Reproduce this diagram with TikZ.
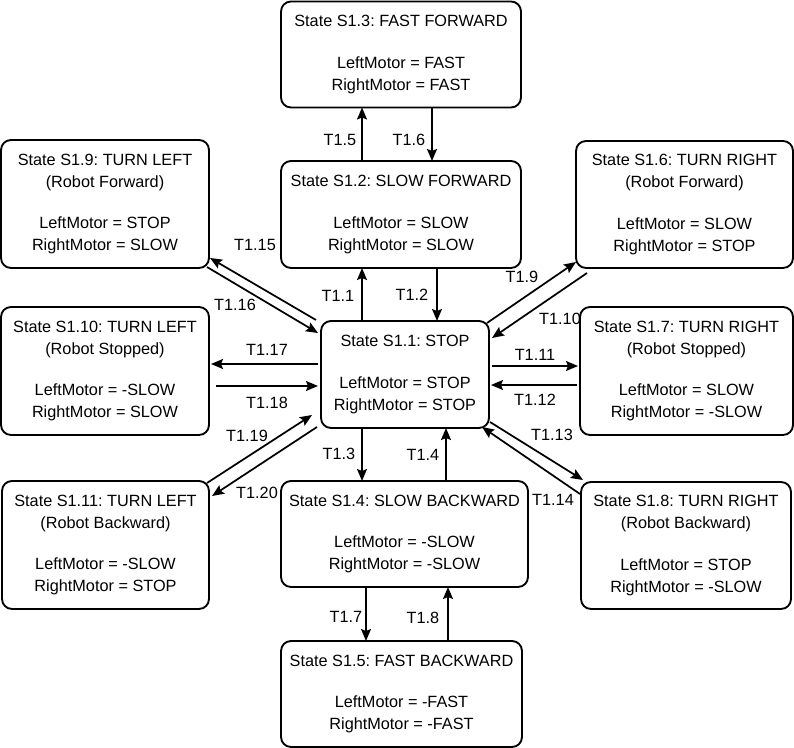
\documentclass[tikz,border=0pt]{standalone}
\usepackage{fontspec}
\setmainfont{Liberation Sans}
\usetikzlibrary{arrows.meta}
\frenchspacing

\begin{document}
\begin{tikzpicture}[x=0.75pt,y=-0.75pt,font=\fontsize{12.2}{16.5}\selectfont]
  \useasboundingbox (0,0) rectangle (794,748);
  \begin{scope}[every node/.style={draw,line width=1.4pt,rounded corners=7.5pt,align=center,inner sep=0pt,outer sep=0pt}]
  \node[minimum width=180pt,minimum height=79.5pt] (s13) at (401,54.5) {State S1.3: FAST FORWARD\\[14.5pt]LeftMotor = FAST\\RightMotor = FAST};
  \node[minimum width=180pt,minimum height=80.25pt] (s12) at (401,214.5) {State S1.2: SLOW FORWARD\\[14.5pt]LeftMotor = SLOW\\RightMotor = SLOW};
  \node[minimum width=126pt,minimum height=80.25pt] (s11) at (405,374.5) {State S1.1: STOP\\[14.5pt]LeftMotor = STOP\\RightMotor = STOP};
  \node[minimum width=185.25pt,minimum height=79.5pt] (s14) at (404.5,534) {State S1.4: SLOW BACKWARD\\[14.5pt]LeftMotor = -SLOW\\RightMotor = -SLOW};
  \node[minimum width=180.75pt,minimum height=79.5pt] (s15) at (401.5,694) {State S1.5: FAST BACKWARD\\[14.5pt]LeftMotor = -FAST\\RightMotor = -FAST};
  \node[minimum width=156pt,minimum height=96pt] (s19) at (105,204) {State S1.9: TURN LEFT\\(Robot Forward)\\[14.5pt]LeftMotor = STOP\\RightMotor = SLOW};
  \node[minimum width=156pt,minimum height=96pt] (s110) at (105,371) {State S1.10: TURN LEFT\\(Robot Stopped)\\[14.5pt]LeftMotor = -SLOW\\RightMotor = SLOW};
  \node[minimum width=155.25pt,minimum height=96pt] (s111) at (105.5,545) {State S1.11: TURN LEFT\\(Robot Backward)\\[14.5pt]LeftMotor = -SLOW\\RightMotor = STOP};
  \node[minimum width=162.75pt,minimum height=95.25pt] (s16) at (684.5,204.5) {State S1.6: TURN RIGHT\\(Robot Forward)\\[14.5pt]LeftMotor = SLOW\\RightMotor = STOP};
  \node[minimum width=159.75pt,minimum height=96pt] (s17) at (686.5,371) {State S1.7: TURN RIGHT\\(Robot Stopped)\\[14.5pt]LeftMotor = SLOW\\RightMotor = -SLOW};
  \node[minimum width=157.5pt,minimum height=95.25pt] (s18) at (686,545.5) {State S1.8: TURN RIGHT\\(Robot Backward)\\[14.5pt]LeftMotor = STOP\\RightMotor = -SLOW};
  \end{scope}
  \begin{scope}[every edge/.style={draw=black,line width=1.3pt,-{Stealth[length=9pt,width=7.5pt,inset=1.5pt]}}]
  \path ([shift={(-39,0)}]s12.north) edge ([shift={(-39,0)}]s13.south);
  \path ([shift={(31,0)}]s13.south) edge ([shift={(31,0)}]s12.north);
  \path ([shift={(-43,0)}]s11.north) edge ([shift={(-39,0)}]s12.south);
  \path ([shift={(36,0)}]s12.south) edge ([shift={(32,0)}]s11.north);
  \path ([shift={(-43,0)}]s11.south) edge ([shift={(-42.5,0)}]s14.north);
  \path ([shift={(41.5,0)}]s14.north) edge ([shift={(41,0)}]s11.south);
  \path ([shift={(-38.5,0)}]s14.south) edge ([shift={(-35.5,0)}]s15.north);
  \path ([shift={(46.5,0)}]s15.north) edge ([shift={(43.5,0)}]s14.south);
  \path ([shift={(-2,2)}]s11.north east) edge ([shift={(0,-6)}]s16.south west);
  \path ([shift={(11,5)}]s16.south west) edge ([shift={(3,17)}]s11.north east);
  \path ([shift={(3,-8.5)}]s11.east) edge ([shift={(-2,-5)}]s17.west);
  \path ([shift={(-3,14)}]s17.west) edge ([shift={(2,10.5)}]s11.east);
  \path ([shift={(1,-6)}]s11.south east) edge ([shift={(2,-2)}]s18.north west);
  \path ([shift={(-1,12)}]s18.north west) edge ([shift={(-7,-1)}]s11.south east);
  \path ([shift={(-5,-1)}]s11.north west) edge ([shift={(1,-10)}]s19.south east);
  \path ([shift={(-2,-1)}]s19.south east) edge ([shift={(-3,12)}]s11.north west);
  \path ([shift={(-3,-10.5)}]s11.west) edge ([shift={(2,-7)}]s110.east);
  \path ([shift={(7,15)}]s110.east) edge ([shift={(-3,11.5)}]s11.west);
  \path ([shift={(-2,2)}]s111.north east) edge ([shift={(-9,-13)}]s11.south west);
  \path ([shift={(-4,-1)}]s11.south west) edge ([shift={(3,15)}]s111.north east);
  \end{scope}
  \begin{scope}[every node/.style={inner sep=0pt}]
  \node (t5) at (340,140) {T1.5};
  \node (t6) at (409,140) {T1.6};
  \node (t1) at (338,296) {T1.1};
  \node (t2) at (412,295) {T1.2};
  \node (t3) at (339,454) {T1.3};
  \node (t4) at (423,455) {T1.4};
  \node (t7) at (346,617) {T1.7};
  \node (t8) at (423,618) {T1.8};
  \node (t9) at (522,277) {T1.9};
  \node (t10) at (560,319) {T1.10};
  \node (t11) at (535,355) {T1.11};
  \node (t12) at (535,400) {T1.12};
  \node (t13) at (552,435) {T1.13};
  \node (t14) at (553,500) {T1.14};
  \node (t15) at (255,245) {T1.15};
  \node (t16) at (235,305) {T1.16};
  \node (t17) at (267,350) {T1.17};
  \node (t18) at (267,403) {T1.18};
  \node (t19) at (247,436) {T1.19};
  \node (t20) at (257,493) {T1.20};
  \end{scope}
\end{tikzpicture}
\end{document}
